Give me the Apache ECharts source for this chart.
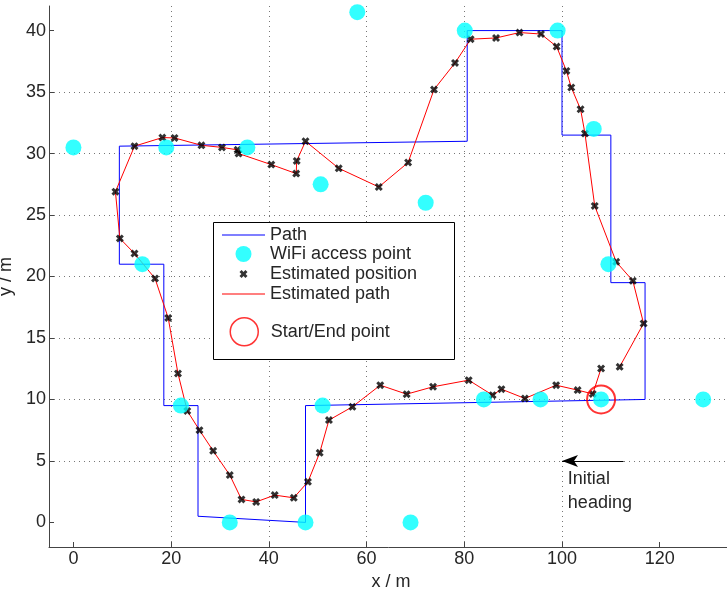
<!DOCTYPE html>
<html>
<head>
<meta charset="utf-8">
<script src="https://cdn.jsdelivr.net/npm/echarts@6.0.0/dist/echarts.min.js"></script>
<style>
  html, body { margin: 0; padding: 0; background: #fff; }
  #chart { width: 727px; height: 590px; }
</style>
</head>
<body>
<div id="chart"></div>
<script>
// ground-truth walking path (m)
const pathPoints = [
  [117, 10], [47.5, 9.5], [47.5, 0], [25.5, 0.5], [25.5, 9.5], [18.5, 9.5],
  [18.5, 21], [9.4, 21], [9.4, 30.6], [80.6, 31], [80.6, 40], [100, 40],
  [100, 31.5], [110, 31.5], [110, 19.5], [117, 19.5], [117, 10]
]

// wifi access points
const accessPoints = [
  [0, 30.5], [19, 30.5], [35.6, 30.5], [58.1, 41.5], [50.6, 27.5], [72.1, 26],
  [80.1, 40], [99.1, 40], [106.5, 32], [109.5, 21], [14.1, 21], [22, 9.5],
  [32, 0], [47.5, 0], [69, 0], [51, 9.5], [84, 10], [95.6, 10], [108, 10], [128.9, 10]
]

// estimated positions, in walking order
const estimated = [
  [108.0, 12.52], [106.3, 10.45], [103.2, 10.76], [98.8, 11.16], [92.4, 10.08],
  [87.6, 10.84], [85.8, 10.35], [80.9, 11.57], [73.6, 11.03], [68.2, 10.43],
  [62.8, 11.16], [57.1, 9.4], [52.3, 8.32], [50.4, 5.66], [48.0, 3.3],
  [45.1, 2.0], [41.2, 2.22], [37.4, 1.67], [34.4, 1.87], [32.0, 3.85],
  [28.6, 5.82], [25.8, 7.5], [23.3, 9.07], [21.4, 12.11], [19.4, 16.63],
  [16.7, 19.84], [12.5, 21.87], [9.5, 23.1], [8.6, 26.9], [12.5, 30.6],
  [18.2, 31.3], [20.7, 31.27], [26.2, 30.67], [30.4, 30.5], [33.6, 30.3],
  [33.8, 30.0], [40.5, 29.1], [45.6, 28.37], [45.7, 29.4], [47.5, 31.0],
  [54.3, 28.8], [62.5, 27.28], [68.5, 29.27], [73.8, 35.2], [78.1, 37.37],
  [81.3, 39.3], [86.5, 39.4], [91.3, 39.84], [95.7, 39.72], [98.9, 38.7],
  [100.9, 36.72], [101.9, 35.37], [103.8, 33.6], [104.7, 31.63], [106.7, 25.74],
  [111.1, 21.19], [114.5, 19.65], [116.7, 16.18], [111.8, 12.65]
]

const startPoint = [[108, 10]]

// "Initial heading" arrow and its note
const headingArrow = [[112.6, 5], [100, 5]]
const headingNote = [101.2, 2.55]

const xTicks = [0, 20, 40, 60, 80, 100, 120]
const yTicks = [0, 5, 10, 15, 20, 25, 30, 35, 40]

const FONT = 'Liberation Sans, Arial, sans-serif'
const TXT = '#262626'
// heavy "x" marker
const crossIcon = 'path://M0,2.6 L2.6,0 L5,2.4 L7.4,0 L10,2.6 L7.6,5 L10,7.4 L7.4,10 L5,7.6 L2.6,10 L0,7.4 L2.4,5 Z'

const chart = echarts.init(document.getElementById('chart'))

// legend rows: the item box starts at the icon's drawn edge, so shift left by the spare width
const legendRow = (top, iconW, iconH, item) => ({
  orient: 'vertical',
  left: 222 + (43 - iconW) / 2,
  top: top,
  padding: 0,
  itemWidth: 43,
  itemHeight: iconH,
  selectedMode: false,
  z: 10,
  textStyle: { fontFamily: FONT, fontSize: 18, lineHeight: 18, color: TXT },
  data: [item]
})

const option = {
  animation: false,
  backgroundColor: '#fff',
  grid: { left: 49, top: 6, right: -6, bottom: 43, outerBoundsMode: 'none' },
  xAxis: {
    type: 'value',
    min: -5,
    max: 135,
    splitNumber: 7,
    name: 'x / m',
    nameLocation: 'middle',
    nameGap: 22,
    nameTextStyle: { fontFamily: FONT, fontSize: 18, color: TXT },
    axisLine: { onZero: false, lineStyle: { color: '#444', width: 1 } },
    axisTick: { inside: true, length: 5, customValues: xTicks, lineStyle: { color: '#444' } },
    axisLabel: { customValues: xTicks, margin: 3, fontFamily: FONT, fontSize: 18, color: TXT },
    splitLine: { show: true, showMinLine: false, showMaxLine: false, lineStyle: { color: '#777', type: [1, 4], width: 1 } }
  },
  yAxis: {
    type: 'value',
    min: -2,
    max: 42,
    splitNumber: 9,
    name: 'y / m',
    nameLocation: 'middle',
    nameGap: 24,
    nameTextStyle: { fontFamily: FONT, fontSize: 18, color: TXT },
    axisLine: { show: true, onZero: false, lineStyle: { color: '#444', width: 1 } },
    axisTick: { show: true, inside: true, length: 5, customValues: yTicks, lineStyle: { color: '#444' } },
    axisLabel: { customValues: yTicks, margin: 3, fontFamily: FONT, fontSize: 18, color: TXT },
    splitLine: { show: true, showMinLine: false, showMaxLine: false, lineStyle: { color: '#777', type: [1, 4], width: 1 } }
  },
  legend: [
    legendRow(226, 43, 1, { name: 'Path', icon: 'rect' }),
    legendRow(245, 16, 16, { name: 'WiFi access point', icon: 'circle' }),
    legendRow(265, 8, 8, { name: 'Estimated position', icon: crossIcon }),
    legendRow(285, 43, 1, { name: 'Estimated path', icon: 'rect' }),
    legendRow(317, 28, 28, {
      name: 'Start/End point', icon: 'circle',
      itemStyle: { color: 'transparent', borderColor: '#ff0000', borderWidth: 1.5 }
    })
  ],
  graphic: [{
    type: 'rect',
    z: 9,
    shape: { x: 213.5, y: 222.5, width: 241, height: 137 },
    style: { fill: '#fff', stroke: '#000', lineWidth: 1 }
  }],
  series: [
    {
      name: 'Path',
      type: 'line',
      data: pathPoints,
      symbol: 'none',
      silent: true,
      z: 2,
      color: '#0000ff',
      lineStyle: { color: '#0000ff', width: 1 }
    },
    {
      name: 'Estimated path',
      type: 'line',
      data: estimated,
      symbol: 'none',
      silent: true,
      z: 3,
      color: '#ff0000',
      lineStyle: { color: '#ff0000', width: 1 }
    },
    {
      name: 'Estimated position',
      type: 'scatter',
      data: estimated,
      symbol: crossIcon,
      symbolSize: 8,
      symbolKeepAspect: true,
      silent: true,
      z: 4,
      itemStyle: { color: '#000' }
    },
    {
      name: 'WiFi access point',
      type: 'scatter',
      data: accessPoints,
      symbol: 'circle',
      symbolSize: 16,
      silent: true,
      z: 5,
      itemStyle: { color: '#00ffff' }
    },
    {
      name: 'Start/End point',
      type: 'scatter',
      data: startPoint,
      symbol: 'circle',
      symbolSize: 28,
      silent: true,
      z: 6,
      itemStyle: { color: 'transparent', borderColor: '#ff0000', borderWidth: 2 }
    },
    {
      name: 'annotation',
      type: 'line',
      data: [],
      silent: true,
      z: 7,
      markLine: {
        silent: true,
        animation: false,
        symbol: ['none', 'arrow'],
        symbolSize: [9, 16],
        label: { show: false },
        lineStyle: { color: '#000', width: 1.2, type: 'solid' },
        data: [[{ coord: headingArrow[0] }, { coord: headingArrow[1] }]]
      },
      markPoint: {
        silent: true,
        animation: false,
        symbolSize: 0,
        label: {
          show: true,
          position: 'inside',
          align: 'left',
          verticalAlign: 'middle',
          fontFamily: FONT,
          fontSize: 18,
          lineHeight: 24,
          color: TXT,
          formatter: 'Initial\nheading'
        },
        data: [{ coord: headingNote }]
      }
    }
  ]
}

chart.setOption(option)
</script>
</body>
</html>
